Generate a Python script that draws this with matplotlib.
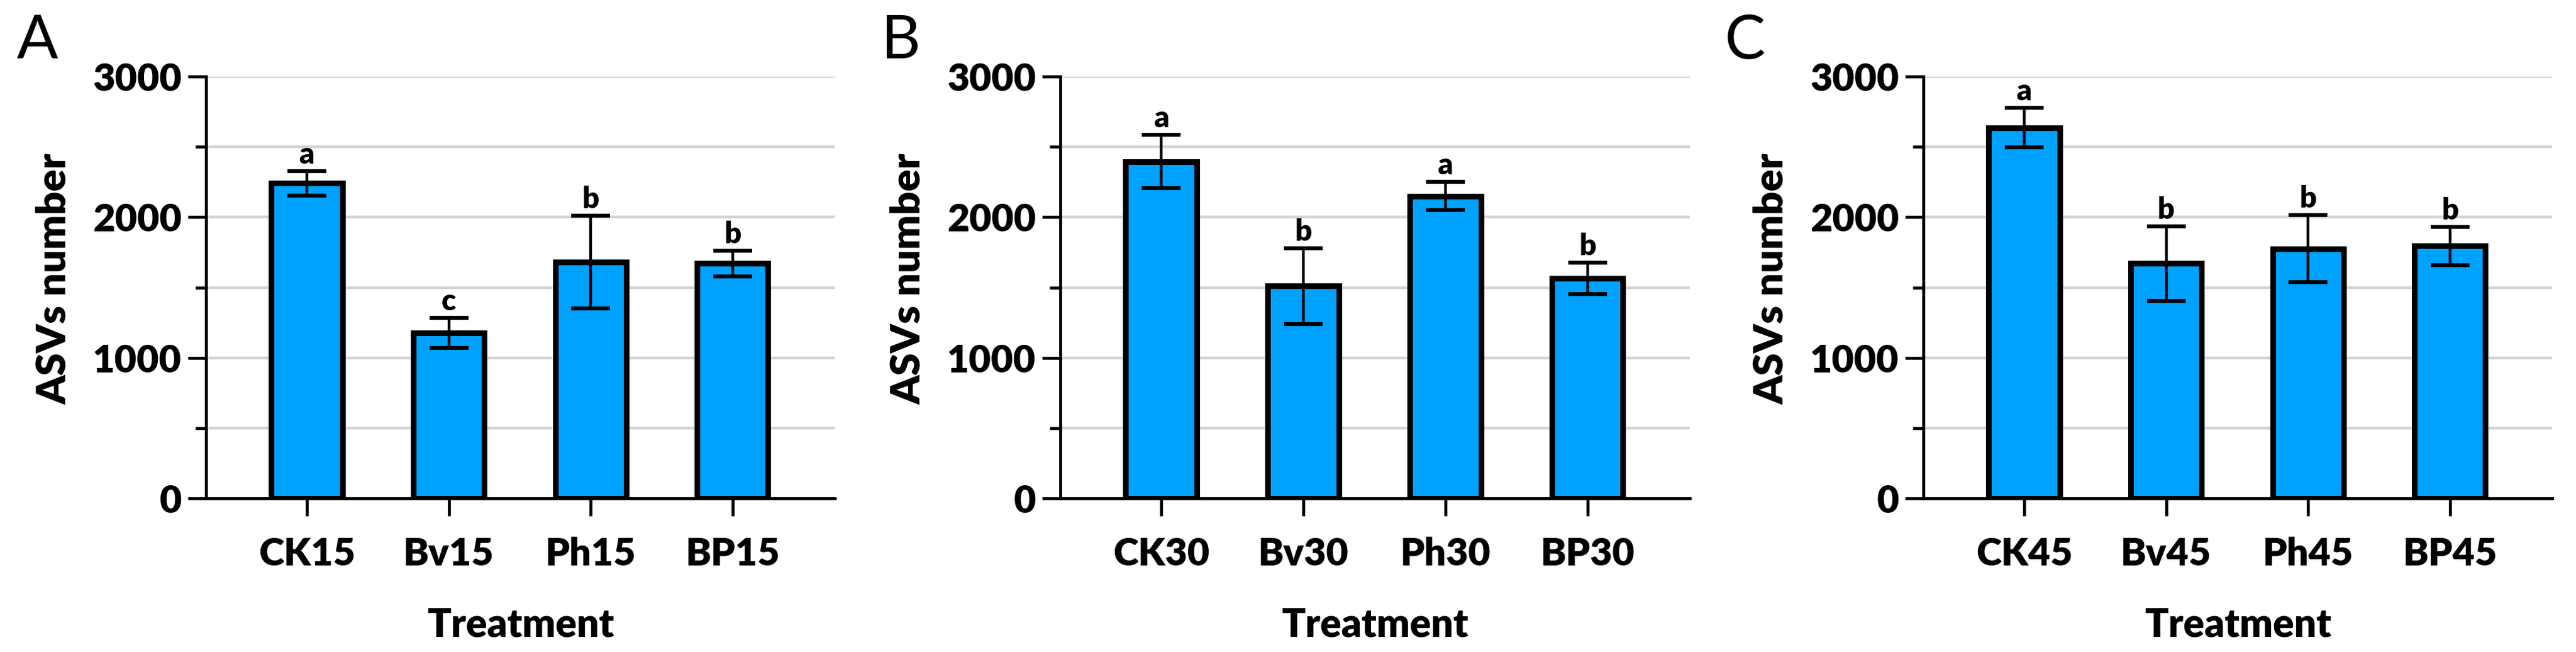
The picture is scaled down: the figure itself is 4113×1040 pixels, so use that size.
"""ASVs number per treatment, three sampling depths (panels A-C)."""
import matplotlib
matplotlib.use("Agg")
import matplotlib.pyplot as plt
from matplotlib.ticker import MultipleLocator

plt.rcParams["font.family"] = ["Lato", "DejaVu Sans"]

# panel data (mean, error)
panel_letters = ["A", "B", "C"]
labels_A = ["CK15", "Bv15", "Ph15", "BP15"]
labels_B = ["CK30", "Bv30", "Ph30", "BP30"]
labels_C = ["CK45", "Bv45", "Ph45", "BP45"]
means_A = [2240, 1175, 1680, 1670]
means_B = [2395, 1510, 2150, 1565]
means_C = [2635, 1670, 1775, 1795]
errs_A = [85, 107, 330, 90]
errs_B = [190, 270, 100, 110]
errs_C = [140, 265, 238, 135]
sig_A = ["a", "c", "b", "b"]
sig_B = ["a", "b", "a", "b"]
sig_C = ["a", "b", "b", "b"]

W, H = 4113, 1040
DPI = 100
BAR_COLOR = "#00A2FF"
GRID_COLOR = "#D4D4D4"
WEIGHT = "heavy"
# axes left/right edges in pixels, shared bottom/top
AX_X = [(329, 1333), (1693, 2698), (3071, 4075)]
AX_BOTTOM, AX_TOP = 795, 122
LETTER_X = [27, 1406, 2753]


def draw_panel(ax, labels, means, errs, sig):
    x = range(len(labels))
    ax.bar(x, means, width=0.5, color=BAR_COLOR, edgecolor="black",
           linewidth=6.5, zorder=2)
    ax.errorbar(x, means, yerr=errs, fmt="none", ecolor="black",
                elinewidth=3.2, capsize=22, capthick=4.5, zorder=3)
    for xi, m, e, s in zip(x, means, errs, sig):
        ax.annotate(s, (xi, m + e), xytext=(0, 3), textcoords="offset points",
                    ha="center", va="bottom", fontsize=34, fontweight=WEIGHT)

    ax.set_xlim(-0.71, 3.72)
    ax.set_ylim(0, 3000)
    ax.set_xticks(list(x))
    ax.set_xticklabels(labels)
    ax.yaxis.set_major_locator(MultipleLocator(1000))
    ax.yaxis.set_minor_locator(MultipleLocator(500))
    ax.set_axisbelow(True)
    ax.yaxis.grid(True, which="both", color=GRID_COLOR, linewidth=3.2)

    for side in ("top", "right"):
        ax.spines[side].set_visible(False)
    for side in ("left", "bottom"):
        ax.spines[side].set_linewidth(3.4)
    ax.tick_params(axis="y", which="major", length=21, width=3.4, pad=7,
                   labelsize=44)
    ax.tick_params(axis="y", which="minor", length=12, width=3.4)
    ax.tick_params(axis="x", length=20, width=3.4, pad=24, labelsize=44)
    for t in ax.get_xticklabels() + ax.get_yticklabels():
        t.set_fontweight(WEIGHT)

    ax.set_ylabel("ASVs number", fontsize=47, fontweight=WEIGHT)
    ax.yaxis.set_label_coords(-0.212, 0.52)
    ax.set_xlabel("Treatment", fontsize=45, fontweight=WEIGHT)
    ax.xaxis.set_label_coords(0.5, -0.258)


fig = plt.figure(figsize=(W / DPI, H / DPI), dpi=DPI)
panels = [(labels_A, means_A, errs_A, sig_A),
          (labels_B, means_B, errs_B, sig_B),
          (labels_C, means_C, errs_C, sig_C)]
for (x0, x1), lx, letter, data in zip(AX_X, LETTER_X, panel_letters, panels):
    ax = fig.add_axes([x0 / W, (H - AX_BOTTOM) / H, (x1 - x0) / W,
                       (AX_BOTTOM - AX_TOP) / H])
    draw_panel(ax, *data)
    fig.text(lx / W, 1 - 22 / H, letter, ha="left", va="top", fontsize=70)

fig.savefig("out.png", dpi=DPI)
plt.close(fig)
